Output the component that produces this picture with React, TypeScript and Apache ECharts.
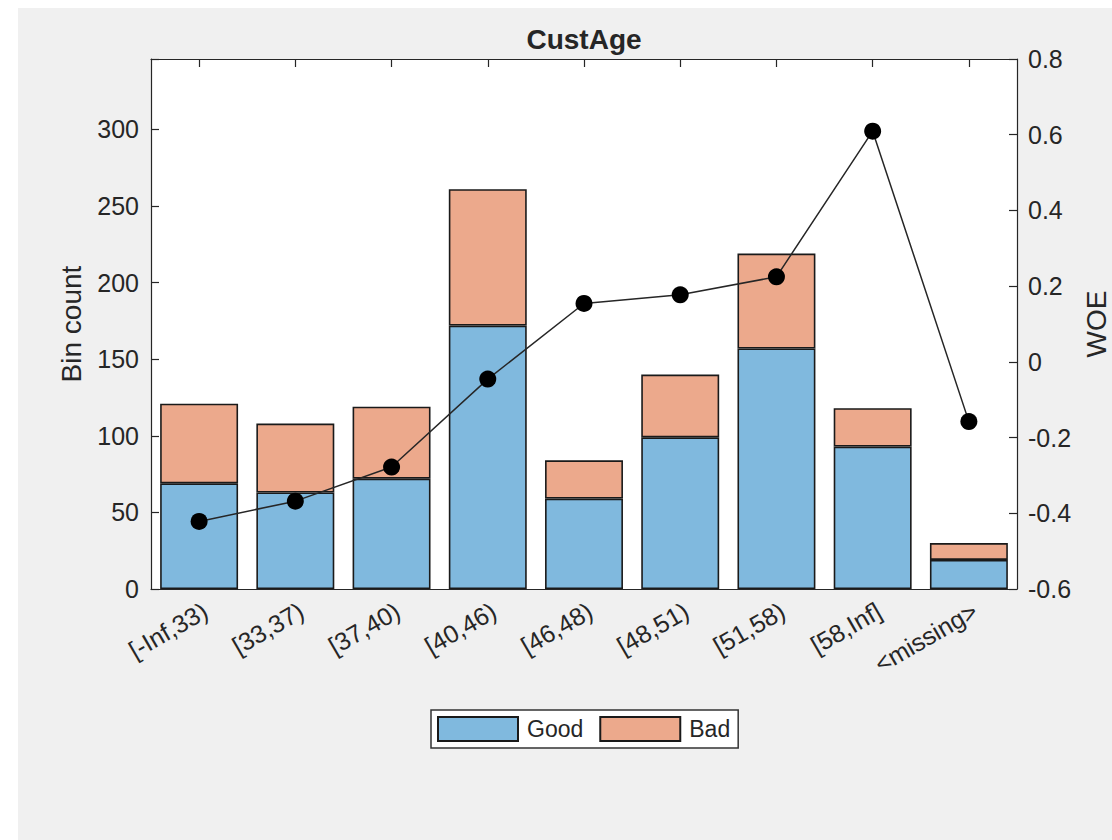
import React, { useEffect, useRef } from "react";
import * as echarts from "echarts";

const categories = ["[-Inf,33)", "[33,37)", "[37,40)", "[40,46)", "[46,48)", "[48,51)", "[51,58)", "[58,Inf]", "<missing>"];
const goodCounts = [69, 63, 72, 172, 59, 99, 157, 93, 19];
const badCounts = [52, 45, 47, 89, 25, 41, 62, 25, 11];
const woeValues = [-0.42156, -0.36795, -0.2779, -0.04556, 0.15424, 0.17713, 0.22469, 0.60931, -0.15787];
const leftTicks = { min: 0, max: 346, interval: 50 };
const rightTicks = { min: -0.6, max: 0.8, interval: 0.2 };

const FONT = "'Liberation Sans', Arial, sans-serif";
const INK = "#262626";

export default function App() {
  const ref = useRef<HTMLDivElement>(null);
  useEffect(() => {
    if (!ref.current) return;
    const chart = echarts.init(ref.current, undefined, { renderer: "svg" });
    const tickStyle = { color: INK, width: 1.2 };
    chart.setOption({
      animation: false,
      backgroundColor: "#f0f0f0",
      textStyle: { fontFamily: FONT },
      title: {
        text: "CustAge",
        left: 566,
        top: 17,
        padding: 0,
        textAlign: "center",
        textStyle: { fontFamily: FONT, fontSize: 28, fontWeight: "bold", color: INK, lineHeight: 28 },
      },
      legend: {
        data: ["Good", "Bad"],
        left: 413,
        top: 702,
        orient: "horizontal",
        icon: "rect",
        itemWidth: 80,
        itemHeight: 24,
        itemGap: 16,
        padding: [6, 8, 6, 6],
        backgroundColor: "#ffffff",
        borderColor: "#333333",
        borderWidth: 1.5,
        borderRadius: 0,
        textStyle: { fontFamily: FONT, fontSize: 23, color: INK, padding: [0, 0, 0, 4] },
      },
      grid: {
        left: 133,
        top: 51,
        width: 866,
        height: 530,
        show: true,
        backgroundColor: "#ffffff",
        borderWidth: 0,
        containLabel: false,
        outerBoundsMode: "none",
      },
      xAxis: [
        {
          type: "category",
          data: categories,
          position: "bottom",
          boundaryGap: true,
          axisLine: { show: true, onZero: false, lineStyle: tickStyle },
          axisTick: { show: true, inside: true, alignWithLabel: true, length: 8, lineStyle: tickStyle },
          axisLabel: {
            rotate: 30,
            interval: 0,
            margin: 9,
            fontSize: 25,
            color: INK,
            fontFamily: FONT,
            align: "right",
            verticalAlign: "top",
          },
          splitLine: { show: false },
        },
        {
          type: "category",
          data: categories,
          position: "top",
          boundaryGap: true,
          axisLine: { show: true, onZero: false, lineStyle: tickStyle },
          axisTick: { show: true, inside: true, alignWithLabel: true, length: 8, lineStyle: tickStyle },
          axisLabel: { show: false },
          splitLine: { show: false },
        },
      ],
      yAxis: [
        {
          type: "value",
          position: "left",
          min: leftTicks.min,
          max: leftTicks.max,
          interval: leftTicks.interval,
          name: "Bin count",
          nameLocation: "middle",
          nameRotate: 90,
          nameGap: 66,
          nameTextStyle: { fontFamily: FONT, fontSize: 28, color: INK, lineHeight: 28 },
          axisLine: { show: true, onZero: false, lineStyle: tickStyle },
          axisTick: { show: true, inside: true, length: 8, lineStyle: tickStyle },
          axisLabel: {
            fontSize: 25,
            color: INK,
            margin: 12,
            fontFamily: FONT,
            formatter: (v: number) => (Math.abs(v % 50) < 1e-9 ? String(v) : ""),
          },
          splitLine: { show: false },
        },
        {
          type: "value",
          position: "right",
          min: rightTicks.min,
          max: rightTicks.max,
          interval: rightTicks.interval,
          name: "WOE",
          nameLocation: "middle",
          nameRotate: 90,
          nameGap: 65,
          nameTextStyle: { fontFamily: FONT, fontSize: 28, color: INK, lineHeight: 28 },
          axisLine: { show: true, onZero: false, lineStyle: tickStyle },
          axisTick: { show: true, inside: true, length: 8, lineStyle: tickStyle },
          axisLabel: {
            fontSize: 25,
            color: INK,
            margin: 11,
            fontFamily: FONT,
            formatter: (v: number) => String(Math.round(v * 10) / 10),
          },
          splitLine: { show: false },
        },
      ],
      series: [
        {
          name: "Good",
          type: "bar",
          stack: "total",
          xAxisIndex: 0,
          yAxisIndex: 0,
          barWidth: "81%",
          data: goodCounts,
          itemStyle: { color: "#80b9de", borderColor: "#1a1a1a", borderWidth: 1.6 },
        },
        {
          name: "Bad",
          type: "bar",
          stack: "total",
          xAxisIndex: 0,
          yAxisIndex: 0,
          barWidth: "81%",
          data: badCounts,
          itemStyle: { color: "#eca98c", borderColor: "#1a1a1a", borderWidth: 1.6 },
        },
        {
          name: "WOE",
          type: "line",
          xAxisIndex: 0,
          yAxisIndex: 1,
          data: woeValues,
          symbol: "circle",
          symbolSize: 17,
          z: 10,
          itemStyle: { color: "#000000" },
          lineStyle: { color: INK, width: 1.5 },
        },
      ],
    });
    return () => chart.dispose();
  }, []);
  return (
    <div style={{ position: "absolute", left: 0, top: 0, width: 1112, height: 840, background: "#ffffff" }}>
      <div ref={ref} style={{ position: "absolute", left: 18, top: 8, width: 1094, height: 832 }} />
    </div>
  );
}
